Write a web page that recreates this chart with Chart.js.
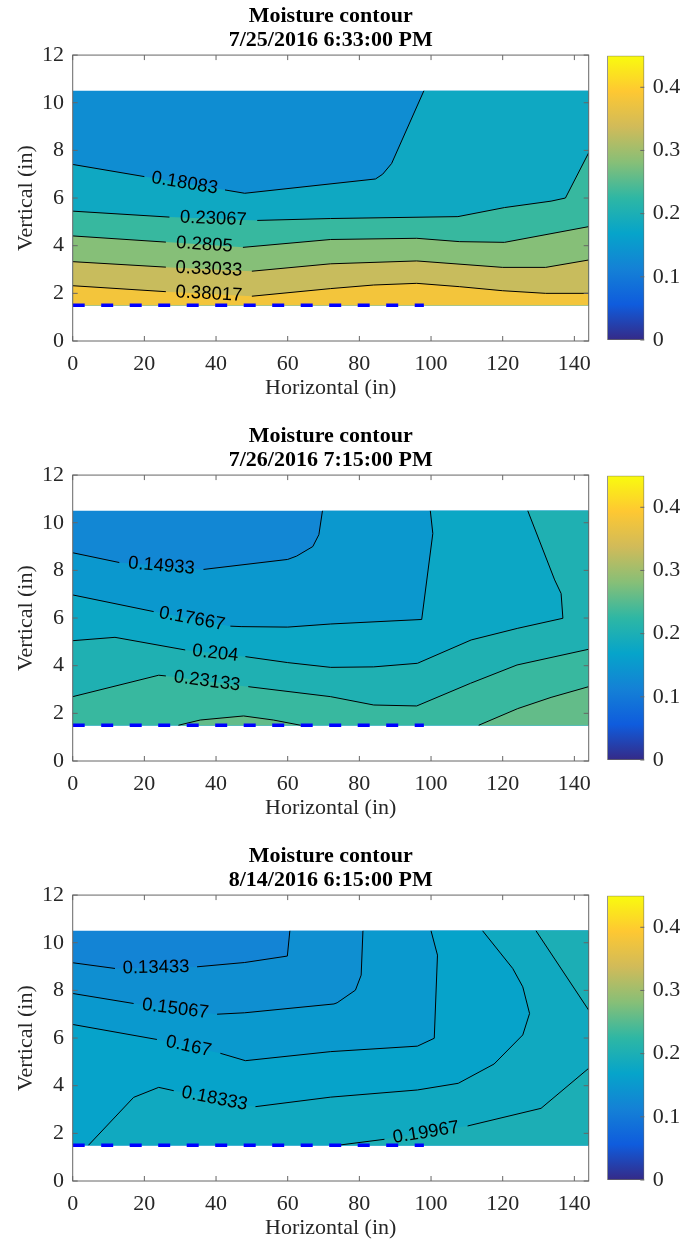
<!DOCTYPE html>
<html>
<head>
<meta charset="utf-8">
<script src="https://cdn.jsdelivr.net/npm/chart.js@4.4.1/dist/chart.umd.min.js"></script>
<style>
    html, body { margin: 0; padding: 0; background: #fff; }
    #wrap { position: relative; width: 685px; height: 1246px; overflow: hidden; }
    .panel { position: absolute; left: 0; width: 685px; height: 420px; }
    .panel canvas { position: absolute; top: 0; }
</style>
</head>
<body>
<div id="wrap"></div>
<script>
// ======= Axes / colorbar =======
const xTicks = [0, 20, 40, 60, 80, 100, 120, 140];
const yTicks = [0, 2, 4, 6, 8, 10, 12];
const cbTicks = [0, 0.1, 0.2, 0.3, 0.4];
const cbMax = 0.45;
const xRange = [0, 144];        // measured width of the section
const yRange = [1.5, 10.5];     // measured depth of the section
const dashX = [0, 98];          // blue dashed marker
const dashY = 1.5;

// ======= Panel 1 : 7/25/2016 =======
const p1Title = ['Moisture contour', '7/25/2016 6:33:00 PM'];
const p1Levels = [0.131, 0.18083, 0.23067, 0.2805, 0.33033, 0.38017];   // first = floor of lowest band
// contour lines [x, y], null = label break
const p1_a = [[0,7.41],[20,6.9],null,[42.5,6.34],[48,6.2],[84.5,6.8],[86.5,7.0],[89,7.45],[98,10.5]];
const p1_b = [[0,5.45],[27,5.2],null,[51.5,5.06],[72,5.14],[107.5,5.22],[120.5,5.6],[133.5,5.87],[137.5,6.0],[144,7.9]];
const p1_c = [[0,4.41],[26,4.15],null,[47.5,3.93],[72,4.26],[96,4.31],[108,4.17],[120.5,4.14],[144,4.8]];
const p1_d = [[0,3.33],[26,3.1],null,[50,2.93],[72,3.24],[96,3.36],[120,3.09],[132,3.09],[144,3.4]];
const p1_e = [[0,2.32],[26,2.07],null,[50,1.88],[72,2.2],[84,2.35],[96,2.42],[108,2.28],[120,2.11],[132,2.0],[144,2.0]];

// ======= Panel 2 : 7/26/2016 =======
const p2Title = ['Moisture contour', '7/26/2016 7:15:00 PM'];
const p2Levels = [0.122, 0.14933, 0.17667, 0.204, 0.23133, 0.25867];
const p2_a = [[0,8.74],[13,8.33],null,[36.5,8.04],[60,8.46],[62.5,8.6],[67,9.0],[68.7,9.5],[69.7,10.5]];
const p2_b = [[0,6.97],[22.6,6.27],null,[44,5.66],[47,5.64],[60,5.62],[72,5.75],[97.4,5.94],[100.5,9.55],[99.8,10.5]];
const p2_c = [[0,5.05],[11.8,5.19],[31.4,4.66],null,[48.2,4.38],[60,4.13],[72,3.93],[84,3.95],[96.2,4.1],[111.2,5.08],[124.2,5.57],[136.8,5.99],[136.3,7.03],[134.5,7.6],[127,10.5]];
const p2_d = [[0,2.7],[24,3.6],[26,3.57],null,[49,3.12],[72,2.7],[84,2.35],[96,2.31],[111,3.26],[124,4.03],[144,4.69]];
const p2_e = [[29.5,1.5],[35.6,1.72],[47.7,1.89],[56,1.72],[63.6,1.5]];
const p2_f = [[113.3,1.5],[124.2,2.2],[133.5,2.67],[144,3.12]];

// ======= Panel 3 : 8/14/2016 =======
const p3Title = ['Moisture contour', '8/14/2016 6:15:00 PM'];
const p3Levels = [0.118, 0.13433, 0.15067, 0.167, 0.18333, 0.19967];
const p3_a = [[0,9.16],[11.8,8.92],null,[34.7,8.99],[48,9.17],[59.9,9.44],[60.6,10.5]];
const p3_b = [[0,7.87],[17,7.45],null,[40.3,7.0],[48,7.06],[72.9,7.43],[73.8,7.48],[78.9,8.01],[80.5,8.64],[81,10.5]];
const p3_c = [[0,6.57],[23.5,5.94],null,[41.2,5.36],[48.2,5.05],[72,5.43],[96.2,5.66],[100.9,5.99],[101.8,9.48],[100,10.5]];
const p3_d = [[4.4,1.5],[17,3.51],[24,3.93],[28.2,3.79],null,[51,3.12],[72,3.52],[96.2,3.82],[107.6,4.1],[117.6,4.91],[125.6,6.13],[127.5,7.03],[125.6,8.15],[122.8,8.92],[114.4,10.5]];
const p3_e = [[74,1.5],[87,1.75],null,[110.2,2.31],[130.7,3.05],[144,4.73]];
const p3_f = [[129.3,10.5],[144,7.17]];

// pieces: [level, line, corners closing the high side]
const p1Pieces = [[0.18083, p1_a, 'TR BR BL'], [0.23067, p1_b, 'BR BL'], [0.2805, p1_c, 'BR BL'], [0.33033, p1_d, 'BR BL'], [0.38017, p1_e, 'BR BL']];
const p2Pieces = [[0.14933, p2_a, 'TR BR BL'], [0.17667, p2_b, 'TR BR BL'], [0.204, p2_c, 'TR BR BL'], [0.23133, p2_d, 'BR BL'], [0.25867, p2_e, ''], [0.25867, p2_f, 'BR']];
const p3Pieces = [[0.13433, p3_a, 'TR BR BL'], [0.15067, p3_b, 'TR BR BL'], [0.167, p3_c, 'TR BR BL'], [0.18333, p3_d, 'TR BR'], [0.19967, p3_e, 'BR'], [0.19967, p3_f, 'TR']];

// ======= Стиль =======
const parula = [[53,42,135],[15,92,221],[20,129,214],[6,164,202],[46,183,164],[135,191,119],[209,187,89],[254,200,50],[249,251,14]];
const serif = 'Liberation Serif';
const axisColor = '#262626';
const boxColor = '#666666';

function bandColor(v) {
    const t = Math.min(Math.max(v / cbMax, 0), 1) * (parula.length - 1);
    const i = Math.min(Math.floor(t), parula.length - 2);
    const f = t - i;
    const a = parula[i], b = parula[i + 1];
    return 'rgb(' + a.map((c, k) => Math.round(c + (b[k] - c) * f)).join(',') + ')';
}

function corner(name) {
    return {
        TL: [xRange[0], yRange[1]], TR: [xRange[1], yRange[1]],
        BR: [xRange[1], yRange[0]], BL: [xRange[0], yRange[0]]
    }[name];
}

const pt = p => ({ x: p[0], y: p[1] });

// рамка + внутренние риски + подписи изолиний
function decoPlugin(pieces) {
    return {
        id: 'deco',
        afterDatasetsDraw(chart) {
            const { ctx, scales: { x, y } } = chart;
            ctx.save();
            ctx.font = '18.5px "Liberation Sans"';
            ctx.fillStyle = '#000';
            ctx.textAlign = 'center';
            ctx.textBaseline = 'middle';
            pieces.forEach(([lv, pts]) => {
                const k = pts.indexOf(null);
                if (k < 0) return;
                const a = pts[k - 1], b = pts[k + 1];
                const ax = x.getPixelForValue(a[0]), ay = y.getPixelForValue(a[1]);
                const bx = x.getPixelForValue(b[0]), by = y.getPixelForValue(b[1]);
                ctx.save();
                ctx.translate((ax + bx) / 2, (ay + by) / 2);
                ctx.rotate(Math.atan2(by - ay, bx - ax));
                ctx.fillText(String(lv), 0, 0);
                ctx.restore();
            });
            ctx.restore();
        },
        afterDraw(chart) {
            const { ctx, chartArea: a, scales: { x, y } } = chart;
            ctx.save();
            ctx.strokeStyle = boxColor;
            ctx.lineWidth = 1;
            ctx.beginPath();
            xTicks.forEach(v => {
                const px = x.getPixelForValue(v);
                ctx.moveTo(px, a.bottom); ctx.lineTo(px, a.bottom - 5);
                ctx.moveTo(px, a.top); ctx.lineTo(px, a.top + 5);
            });
            yTicks.forEach(v => {
                const py = y.getPixelForValue(v);
                ctx.moveTo(a.left, py); ctx.lineTo(a.left + 5, py);
                ctx.moveTo(a.right, py); ctx.lineTo(a.right - 5, py);
            });
            ctx.stroke();
            ctx.strokeRect(a.left, a.top, a.right - a.left, a.bottom - a.top);
            ctx.restore();
        }
    };
}

function buildPanel(top, title, levels, pieces) {
    const div = document.createElement('div');
    div.className = 'panel';
    div.style.top = top + 'px';
    document.getElementById('wrap').appendChild(div);

    const cv = document.createElement('canvas');
    cv.width = 685; cv.height = 420;
    cv.style.left = '0px';
    div.appendChild(cv);

    const datasets = [];
    // нижняя полоса — весь прямоугольник
    datasets.push({
        data: ['TL', 'TR', 'BR', 'BL'].map(c => pt(corner(c))),
        backgroundColor: bandColor(levels[0]), borderColor: 'rgba(0,0,0,0)', borderWidth: 0,
        fill: 'shape', pointRadius: 0, order: 100
    });
    // полосы выше каждого уровня
    pieces.forEach(([lv, pts, close]) => {
        const poly = pts.filter(p => p).concat(close ? close.split(' ').map(corner) : []);
        datasets.push({
            data: poly.map(pt),
            backgroundColor: bandColor(lv), borderColor: 'rgba(0,0,0,0)', borderWidth: 0,
            fill: 'shape', pointRadius: 0, order: 90 - levels.indexOf(lv)
        });
    });
    // изолинии
    pieces.forEach(([lv, pts]) => {
        datasets.push({
            data: pts.map((p, k) => p ? pt(p) : { x: (pts[k - 1][0] + pts[k + 1][0]) / 2, y: null }),
            borderColor: '#000', borderWidth: 1, fill: false, pointRadius: 0, order: 10
        });
    });
    // синяя пунктирная линия
    datasets.push({
        data: dashX.map(v => ({ x: v, y: dashY })),
        borderColor: '#0000ff', borderWidth: 3.5, borderDash: [12, 16.5],
        fill: false, pointRadius: 0, order: 0
    });

    new Chart(cv.getContext('2d'), {
        type: 'line',
        data: { datasets },
        options: {
            responsive: false,
            animation: false,
            events: [],
            layout: { padding: { left: 0, right: 96.3, top: 0, bottom: 0 } },
            plugins: {
                legend: { display: false },
                tooltip: { enabled: false },
                title: {
                    display: true, fullSize: false, text: title, color: '#000',
                    font: { family: serif, size: 22, weight: 'bold', lineHeight: 1.07 },
                    padding: { top: 5, bottom: 3 }
                }
            },
            scales: {
                x: {
                    type: 'linear', min: 0, max: 144,
                    grid: { display: false, drawTicks: false },
                    border: { display: false },
                    afterBuildTicks: s => { s.ticks = xTicks.map(v => ({ value: v })); },
                    afterFit: s => { s.height = 79; },
                    ticks: { color: axisColor, padding: 10, font: { family: serif, size: 22 }, callback: v => String(v) },
                    title: { display: true, text: 'Horizontal (in)', color: axisColor,
                             font: { family: serif, size: 22 }, padding: { top: 0, bottom: 19 } }
                },
                y: {
                    type: 'linear', min: 0, max: 12,
                    grid: { display: false, drawTicks: false },
                    border: { display: false },
                    afterBuildTicks: s => { s.ticks = yTicks.map(v => ({ value: v })); },
                    afterFit: s => { s.width = 72.7; },
                    ticks: { color: axisColor, padding: 8.7, font: { family: serif, size: 22 }, callback: v => String(v) },
                    title: { display: true, text: 'Vertical (in)', color: axisColor,
                             font: { family: serif, size: 22 }, padding: { top: 13, bottom: 0 } }
                }
            }
        },
        plugins: [decoPlugin(pieces)]
    });

    // ======= Цветовая шкала =======
    const cb = document.createElement('canvas');
    cb.width = 95; cb.height = 420;
    cb.style.left = '590px';
    div.appendChild(cb);

    new Chart(cb.getContext('2d'), {
        type: 'bar',
        data: {
            labels: ['cb'],
            datasets: [{
                data: [cbMax],
                barPercentage: 1, categoryPercentage: 1,
                borderColor: boxColor, borderWidth: 1, borderSkipped: false,
                backgroundColor: c => {
                    const ch = c.chart;
                    if (!ch.chartArea) return bandColor(0.2);
                    const ys = ch.scales.y;
                    const g = ch.ctx.createLinearGradient(0, ys.getPixelForValue(0), 0, ys.getPixelForValue(cbMax));
                    parula.forEach((col, i) => g.addColorStop(i / (parula.length - 1), 'rgb(' + col.join(',') + ')'));
                    return g;
                }
            }]
        },
        options: {
            responsive: false,
            animation: false,
            events: [],
            layout: { padding: { left: 17.3, right: 0, top: 55.7, bottom: 80 } },
            plugins: { legend: { display: false }, tooltip: { enabled: false } },
            scales: {
                x: { display: false },
                y: {
                    position: 'right', min: 0, max: cbMax,
                    grid: { display: false, drawTicks: false },
                    border: { display: false },
                    afterBuildTicks: s => { s.ticks = cbTicks.map(v => ({ value: v })); },
                    afterFit: s => { s.width = 40.7; },
                    ticks: { color: axisColor, padding: 8.4, font: { family: serif, size: 22 }, callback: v => String(v) }
                }
            }
        },
        plugins: [{
            id: 'cbTicks',
            afterDraw(chart) {
                const { ctx, chartArea: a, scales: { y } } = chart;
                ctx.save();
                ctx.strokeStyle = boxColor;
                ctx.lineWidth = 1;
                ctx.beginPath();
                cbTicks.forEach(v => {
                    const py = y.getPixelForValue(v);
                    ctx.moveTo(a.right, py); ctx.lineTo(a.right - 4, py);
                });
                ctx.stroke();
                ctx.restore();
            }
        }]
    });
}

document.addEventListener('DOMContentLoaded', () => {
    buildPanel(0, p1Title, p1Levels, p1Pieces);
    buildPanel(420, p2Title, p2Levels, p2Pieces);
    buildPanel(840, p3Title, p3Levels, p3Pieces);
});
</script>
</body>
</html>
